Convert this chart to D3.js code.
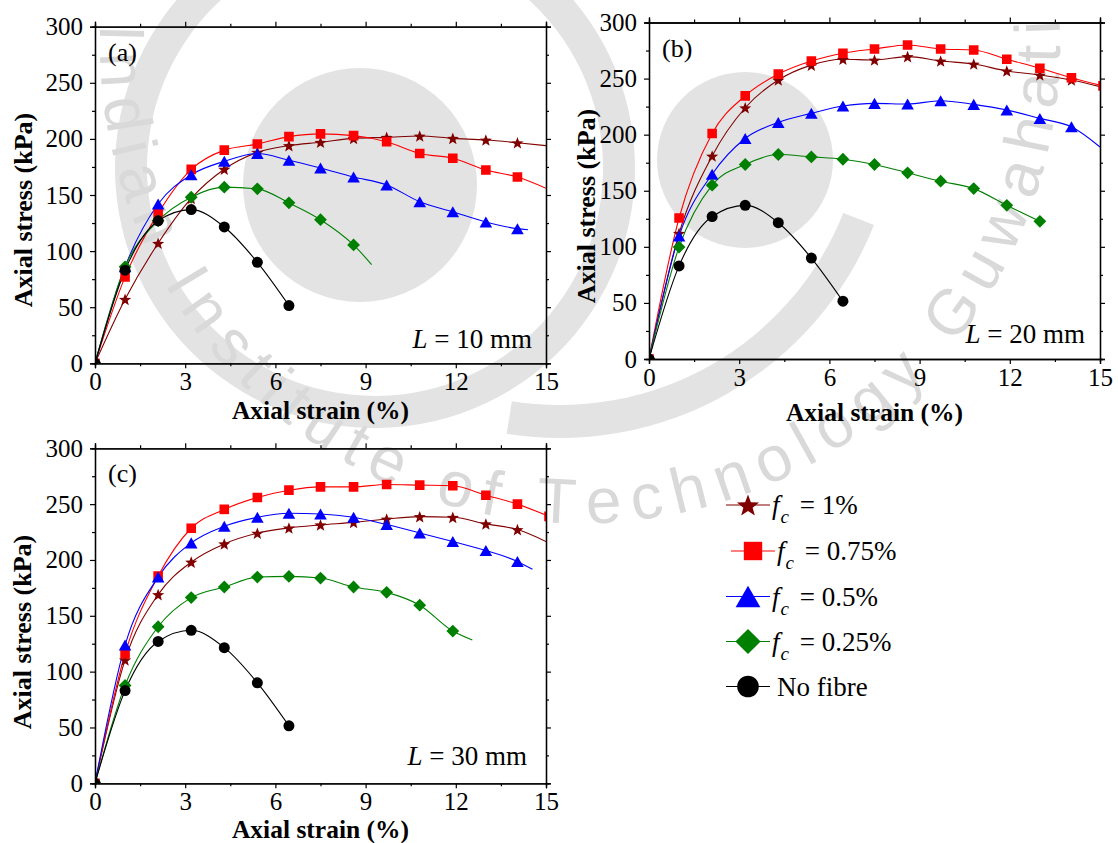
<!DOCTYPE html>
<html>
<head>
<meta charset="utf-8">
<script src="https://cdn.jsdelivr.net/npm/d3@7"></script>
<style>
  html, body { margin: 0; padding: 0; background: #ffffff; }
  svg { display: block; font-family: "Liberation Serif", "Times New Roman", serif; }
</style>
</head>
<body>
<svg id="chart" width="1118" height="843"></svg>
<script>
// Strain (%) at which the marked readings were taken
const strainPts = [0, 1.0, 2.1, 3.2, 4.3, 5.4, 6.45, 7.5, 8.6, 9.7, 10.8, 11.9, 13.0, 14.05, 15.1];

const xTickVals = [0, 3, 6, 9, 12, 15];
const yTickVals = [0, 50, 100, 150, 200, 250, 300];

const seriesKeys   = ['fc1', 'fc075', 'fc050', 'fc025', 'none'];
const seriesPct    = ['1%', '0.75%', '0.5%', '0.25%', null];
const seriesColors = ['#800000', '#ff0000', '#0000ff', '#008000', '#000000'];
const seriesShapes = ['star', 'square', 'triangle', 'diamond', 'circle'];

// Unreinforced sand, same in every panel
const stressNoFibre = [0, 83, 127, 137, 121.5, 90, 51.5];

// Axial stress (kPa), fibre length L = 10 mm
const stressL10_fc1   = [0, 57, 107, 147, 173, 188, 194, 197, 200.5, 201.4, 202.6, 200.5, 199, 196.6];
const stressL10_fc075 = [0, 77, 133.6, 172.8, 190, 195.4, 202, 204.5, 202.9, 197.5, 187, 182.7, 172.3, 166];
const stressL10_fc050 = [0, 86, 142, 168, 180, 187, 181, 174, 166, 159, 144, 135, 126, 120];
const stressL10_fc025 = [0, 86, 127, 148, 157, 155.5, 143, 128, 105.5];

// Axial stress (kPa), L = 20 mm
const stressL20_fc1   = [0, 112, 181, 224, 248.7, 262, 267.2, 266.6, 269.6, 265.7, 263, 256.8, 253.2, 248.7];
const stressL20_fc075 = [0, 125.7, 201, 234.6, 254, 265.7, 272.6, 276.4, 280, 276.4, 275.5, 267.2, 259.2, 250.8, 243.5];
const stressL20_fc050 = [0, 109.6, 164.7, 196.6, 210.9, 219, 225.5, 227.9, 227.3, 230.3, 227, 222, 214.5, 207];
const stressL20_fc025 = [0, 99.8, 155, 173.4, 182.3, 180.2, 178.1, 173.4, 166, 158.5, 151.9, 137, 122.7];

// Axial stress (kPa), L = 30 mm
const stressL30_fc1   = [0, 110.5, 169, 198.1, 214.4, 224, 228.7, 231.4, 233.7, 236.7, 238.8, 238.2, 232.3, 227.2];
const stressL30_fc075 = [0, 116, 185.6, 228.4, 245.3, 256, 262.5, 265.5, 265.5, 267.6, 267, 266.4, 258, 250, 239];
const stressL30_fc050 = [0, 123.8, 184.7, 215.3, 230.2, 238.2, 241.8, 241.2, 238.2, 231.7, 224.2, 216.5, 208.5, 198.7];
const stressL30_fc025 = [0, 87.6, 140.2, 166.3, 175.8, 184.7, 185.3, 183.8, 175.8, 171, 159.5, 136.3];

// Last logged reading after the final marker of a curve: [strain, stress]
const tailL10 = { fc1: [15, 194], fc075: [15, 156], fc050: [14.4, 119], fc025: [9.2, 88] };
const tailL20 = { fc1: [15, 242.8], fc050: [15, 189] };
const tailL30 = { fc1: [15, 216.5], fc050: [14.55, 191.6], fc025: [12.55, 128.3] };

const panels = [
  { tag: '(a)', len: '10', left: 95,  right: 546,  top: 26.7, bottom: 363.3,
    series: { fc1: stressL10_fc1, fc075: stressL10_fc075, fc050: stressL10_fc050, fc025: stressL10_fc025, none: stressNoFibre },
    tails: tailL10, yTitleX: 32, yTitleY: 210, xTitleY: 419, lenRight: 532, lenY: 348 },
  { tag: '(b)', len: '20', left: 649,  right: 1100, top: 22.5, bottom: 359,
    series: { fc1: stressL20_fc1, fc075: stressL20_fc075, fc050: stressL20_fc050, fc025: stressL20_fc025, none: stressNoFibre },
    tails: tailL20, yTitleX: 595, yTitleY: 206, xTitleY: 421, lenRight: 1085, lenY: 343 },
  { tag: '(c)', len: '30', left: 95,  right: 546,  top: 448.3, bottom: 783.3,
    series: { fc1: stressL30_fc1, fc075: stressL30_fc075, fc050: stressL30_fc050, fc025: stressL30_fc025, none: stressNoFibre },
    tails: tailL30, yTitleX: 31, yTitleY: 632, xTitleY: 837.5, lenRight: 527, lenY: 765 }
];

// ---------- marker shapes (centred on the data point, r = half width) ----------
function shapePath(shape, r) {
  const p = d3.path();
  if (shape === 'square') {
    p.rect(-r, -r, 2 * r, 2 * r);
  } else if (shape === 'circle') {
    p.arc(0, 0, r, 0, 2 * Math.PI);
  } else if (shape === 'diamond') {
    p.moveTo(0, -r); p.lineTo(r, 0); p.lineTo(0, r); p.lineTo(-r, 0); p.closePath();
  } else if (shape === 'triangle') {
    const h = r * 1.75;
    p.moveTo(0, -h / 2); p.lineTo(r, h / 2); p.lineTo(-r, h / 2); p.closePath();
  } else if (shape === 'star') {
    const inner = r * 0.42;
    for (let i = 0; i < 10; i++) {
      const rad = i % 2 === 0 ? r : inner;
      const a = -Math.PI / 2 + i * Math.PI / 5;
      const x = rad * Math.cos(a), y = rad * Math.sin(a) + r * 0.1;
      if (i === 0) p.moveTo(x, y); else p.lineTo(x, y);
    }
    p.closePath();
  }
  return p.toString();
}
const plotMarkerR   = { star: 6.4, square: 4.8, triangle: 6.3, diamond: 6.4, circle: 5.5 };
const legendMarkerR = { star: 11.6, square: 9.2, triangle: 12.4, diamond: 12.6, circle: 10.8 };

const svg = d3.select('#chart');
const defs = svg.append('defs');

// ---------- faint institutional watermark behind the figure ----------
const wmColor = '#e3e3e3';
const wm = svg.append('g').attr('class', 'watermark');
wm.append('circle').attr('cx', 360).attr('cy', 185).attr('r', 117).attr('fill', wmColor);
wm.append('circle').attr('cx', 745).attr('cy', 160).attr('r', 88).attr('fill', wmColor);
wm.append('path')
  .attr('d', d3.arc().innerRadius(228).outerRadius(260).startAngle(-5.75).endAngle(-0.55)())
  .attr('transform', 'translate(375,168)')
  .attr('fill', wmColor);
wm.append('path')
  .attr('d', d3.arc().innerRadius(305).outerRadius(338).startAngle(1.95).endAngle(3.3)())
  .attr('transform', 'translate(560,100)')
  .attr('fill', wmColor);

// name of the institute set letter by letter round a large circle
const wmArc = wm.append('path')
  .attr('d', 'M 103 -10 A 480 480 0 1 0 1057 -10')
  .attr('fill', 'none').attr('stroke', 'none');
const wmName = 'Indian Institute of Technology Guwahati';
const wmFont = { family: '"Liberation Sans", Arial, sans-serif', size: 64 };
const arcNode = wmArc.node();
const arcLen = arcNode.getTotalLength();
const probe = wm.append('text').attr('font-family', wmFont.family).attr('font-size', wmFont.size);
const widths = Array.from(wmName).map(ch => {
  probe.text(ch === ' ' ? '\u00a0' : ch);
  return probe.node().getComputedTextLength();
});
probe.remove();
const startAt = 34, endAt = arcLen - 30;
const natural = d3.sum(widths);
const extra = (endAt - startAt - natural) / (wmName.length - 1);
let s = startAt;
Array.from(wmName).forEach((ch, i) => {
  const mid = s + widths[i] / 2;
  if (ch !== ' ') {
    const p0 = arcNode.getPointAtLength(Math.max(0, mid - 1));
    const p1 = arcNode.getPointAtLength(Math.min(arcLen, mid + 1));
    const pm = arcNode.getPointAtLength(mid);
    const ang = Math.atan2(p1.y - p0.y, p1.x - p0.x) * 180 / Math.PI;
    wm.append('text')
      .attr('transform', `translate(${pm.x},${pm.y}) rotate(${ang})`)
      .attr('text-anchor', 'middle')
      .attr('font-family', wmFont.family).attr('font-size', wmFont.size)
      .attr('fill', '#d9d9d9')
      .text(ch);
  }
  s += widths[i] + extra;
});

// ---------- panels ----------
panels.forEach((pn, pi) => {
  const x = d3.scaleLinear().domain([0, 15]).range([pn.left, pn.right]);
  const y = d3.scaleLinear().domain([0, 300]).range([pn.bottom, pn.top]);
  const g = svg.append('g').attr('class', 'panel');

  const clipId = 'clip' + pi;
  defs.append('clipPath').attr('id', clipId)
    .append('rect').attr('x', pn.left).attr('y', pn.top)
    .attr('width', pn.right - pn.left).attr('height', pn.bottom - pn.top);

  // curves
  const line = d3.line().x(d => x(d[0])).y(d => y(d[1])).curve(d3.curveMonotoneX);
  const plot = g.append('g').attr('clip-path', `url(#${clipId})`);
  seriesKeys.forEach((k, si) => {
    const vals = pn.series[k];
    const pts = vals.map((v, i) => [strainPts[i], v]);
    const linePts = pn.tails[k] ? pts.concat([pn.tails[k]]) : pts;
    plot.append('path').datum(linePts)
      .attr('d', line).attr('fill', 'none')
      .attr('stroke', seriesColors[si]).attr('stroke-width', 1.1);
  });
  seriesKeys.forEach((k, si) => {
    const vals = pn.series[k];
    const pts = vals.map((v, i) => [strainPts[i], v]);
    plot.append('g').selectAll('path').data(pts).join('path')
      .attr('d', shapePath(seriesShapes[si], plotMarkerR[seriesShapes[si]]))
      .attr('transform', d => `translate(${x(d[0])},${y(d[1])})`)
      .attr('fill', seriesColors[si]);
  });

  // axes (box with outward ticks on all four sides)
  const yMinor = d3.range(25, 300, 50);
  const xMinor = d3.range(1.5, 15, 3);
  const axL = d3.axisLeft(y).tickValues(yTickVals).tickSize(5).tickPadding(6).tickFormat(d3.format('d'));
  const axB = d3.axisBottom(x).tickValues(xTickVals).tickSize(5).tickPadding(4).tickFormat(d3.format('d'));
  const axR = d3.axisRight(y).tickValues(yTickVals).tickSize(5).tickFormat('');
  const axT = d3.axisTop(x).tickValues(xTickVals).tickSize(5).tickFormat('');
  const gl = g.append('g').attr('transform', `translate(${pn.left},0)`).call(axL);
  const gb = g.append('g').attr('transform', `translate(0,${pn.bottom})`).call(axB);
  g.append('g').attr('transform', `translate(${pn.right},0)`).call(axR);
  g.append('g').attr('transform', `translate(0,${pn.top})`).call(axT);
  g.append('g').attr('transform', `translate(${pn.left},0)`).call(d3.axisLeft(y).tickValues(yMinor).tickSize(3).tickFormat(''));
  g.append('g').attr('transform', `translate(0,${pn.bottom})`).call(d3.axisBottom(x).tickValues(xMinor).tickSize(3).tickFormat(''));
  g.append('g').attr('transform', `translate(${pn.right},0)`).call(d3.axisRight(y).tickValues(yMinor).tickSize(3).tickFormat(''));
  g.append('g').attr('transform', `translate(0,${pn.top})`).call(d3.axisTop(x).tickValues(xMinor).tickSize(3).tickFormat(''));
  g.selectAll('.domain').attr('stroke', '#000').attr('stroke-width', 1.3);
  g.selectAll('.tick line').attr('stroke', '#000').attr('stroke-width', 1.2);
  g.selectAll('.tick text').attr('font-family', '"Liberation Serif", serif').attr('font-size', 25).attr('fill', '#000');
  gb.selectAll('.tick text').attr('dy', '0.7em');
  gl.selectAll('.tick text').attr('dx', '-1');

  // axis titles
  g.append('text')
    .attr('transform', `translate(${pn.yTitleX},${pn.yTitleY}) rotate(-90)`)
    .attr('text-anchor', 'middle').attr('font-weight', 'bold').attr('font-size', 26)
    .text('Axial stress (kPa)');
  g.append('text')
    .attr('x', (pn.left + pn.right) / 2).attr('y', pn.xTitleY)
    .attr('text-anchor', 'middle').attr('font-weight', 'bold').attr('font-size', 25.5)
    .text('Axial strain (%)');

  // panel tag and fibre length
  g.append('text').attr('x', pn.left + 13).attr('y', pn.top + 34)
    .attr('font-size', 26).text(pn.tag);
  const lt = g.append('text').attr('x', pn.lenRight).attr('y', pn.lenY)
    .attr('text-anchor', 'end').attr('font-size', 27);
  lt.append('tspan').attr('font-style', 'italic').text('L');
  lt.append('tspan').text(` = ${pn.len} mm`);
});

// ---------- legend ----------
const legendRows = [505, 551, 596.5, 641.5, 686.5];
const legendShift = [0, 5, 0, 0, 0];
const lg = svg.append('g').attr('class', 'legend');
seriesKeys.forEach((k, si) => {
  const cy = legendRows[si];
  const x0 = 726 + legendShift[si];
  const row = lg.append('g');
  row.append('line').attr('x1', x0).attr('x2', x0 + 44).attr('y1', cy).attr('y2', cy)
    .attr('stroke', seriesColors[si]).attr('stroke-width', 1.2);
  row.append('path').attr('d', shapePath(seriesShapes[si], legendMarkerR[seriesShapes[si]]))
    .attr('transform', `translate(${x0 + 22},${cy})`).attr('fill', seriesColors[si]);
  const t = row.append('text').attr('x', x0 + 46).attr('y', cy + 9).attr('font-size', 27);
  if (seriesPct[si]) {
    t.append('tspan').attr('font-style', 'italic').text('f');
    t.append('tspan').attr('font-style', 'italic').attr('font-size', 19).attr('dy', 9).attr('dx', 1).text('c');
    t.append('tspan').attr('dy', -9).attr('dx', 4).text(` = ${seriesPct[si]}`);
  } else {
    t.attr('x', x0 + 51).text('No fibre');
  }
});
</script>
</body>
</html>
